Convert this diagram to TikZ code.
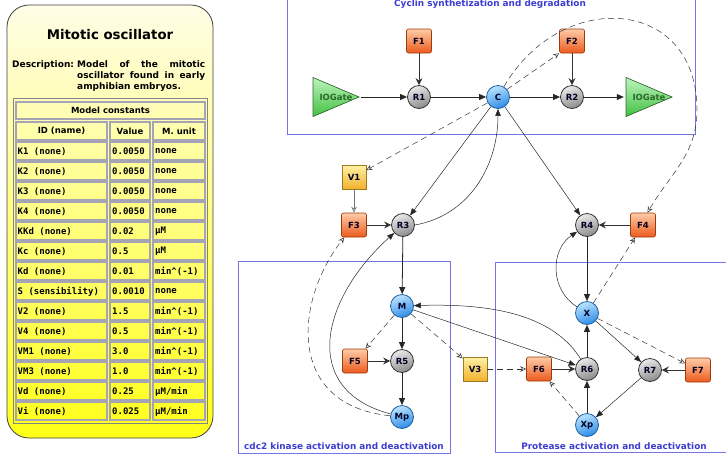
\documentclass[tikz,border=0pt]{standalone}
\usepackage{fontspec}
\setmainfont{DejaVu Sans}
\setmonofont{DejaVu Sans Mono}
\usetikzlibrary{arrows.meta,shapes.geometric,positioning}

% Colours
\definecolor{paneltop}{HTML}{FFFDE6}
\definecolor{panelbot}{HTML}{FFFF18}
\definecolor{cellgray}{HTML}{A4A4B4}
\definecolor{regionline}{HTML}{7474E2}
\definecolor{regiontext}{HTML}{3C3CD2}
\definecolor{bluetop}{HTML}{BCE4FF}
\definecolor{bluebot}{HTML}{2C8CE6}
\definecolor{blueline}{HTML}{1F5F9F}
\definecolor{graytop}{HTML}{EAEAEA}
\definecolor{graybot}{HTML}{8A8A8A}
\definecolor{orangetop}{HTML}{FFCCA6}
\definecolor{orangebot}{HTML}{EC5A1C}
\definecolor{orangeline}{HTML}{9A3C12}
\definecolor{yellowtop}{HTML}{FFF2A6}
\definecolor{yellowbot}{HTML}{F2B02A}
\definecolor{yellowline}{HTML}{9A7A22}
\definecolor{greentop}{HTML}{C4F6C4}
\definecolor{greenbot}{HTML}{3CBE3C}
\definecolor{greenline}{HTML}{2A6A2A}

\tikzset{
  nodefont/.style={font=\bfseries\fontsize{8.5}{9}\selectfont, text=black!85!blue},
  species/.style={circle, minimum size=23pt, inner sep=0pt, draw=blueline, line width=0.8pt,
    top color=bluetop, bottom color=bluebot, shading angle=20, nodefont},
  reaction/.style={circle, minimum size=23pt, inner sep=0pt, draw=black!80, line width=0.8pt,
    top color=graytop, bottom color=graybot, shading angle=20, nodefont},
  funcbox/.style={rectangle, rounded corners=2pt, minimum width=25pt, minimum height=24pt,
    inner sep=0pt, draw=orangeline, line width=0.6pt, top color=orangetop, bottom color=orangebot, nodefont},
  varbox/.style={rectangle, minimum width=24pt, minimum height=24pt,
    inner sep=0pt, draw=yellowline, line width=0.6pt, top color=yellowtop, bottom color=yellowbot, nodefont},
  gate/.style={minimum width=50pt, minimum height=43pt, inner sep=0pt, nodefont, text=greenline,
    path picture={\filldraw[draw=greenline, line width=0.6pt, top color=greentop, bottom color=greenbot]
      ([shift={(2pt,-2pt)}]path picture bounding box.north west)
      -- ([xshift=-2pt]path picture bounding box.east)
      -- ([shift={(2pt,2pt)}]path picture bounding box.south west) -- cycle;}},
  flow/.style={-{Triangle[length=7pt,width=6pt]}, line width=0.8pt, black!85},
  thinflow/.style={-{Triangle[length=7pt,width=5.5pt]}, line width=0.5pt, black!85},
  modline/.style={-{Stealth[length=7pt,width=7pt,inset=2.5pt]}, line width=0.7pt, black!80},
  openline/.style={-{Stealth[open,length=6pt,width=5.5pt]}, line width=0.6pt, black!55},
  sigline/.style={dash pattern=on 6pt off 4pt, -{Stealth[open,length=6pt,width=5.5pt]},
    line width=0.5pt, black!80},
  region/.style={draw=regionline, line width=0.8pt},
  regiontitle/.style={font=\bfseries\fontsize{8.9}{10}\selectfont, text=regiontext},
  cellline/.style={draw=cellgray, line width=1.3pt},
  headtext/.style={font=\bfseries\fontsize{8.5}{10}\selectfont},
  celltext/.style={font=\ttfamily\bfseries\fontsize{9}{10}\selectfont, anchor=west, inner sep=0pt}
}

% Unit with a slash, kept out of the foreach splitting
\newcommand{\permin}{μM/min}
\newcommand{\invmin}{min\textasciicircum(-1)}

\begin{document}
\begin{tikzpicture}[x=1pt,y=-1pt]
  \useasboundingbox (0,0) rectangle (726,459);

  % The model panel
  \draw[rounded corners=22pt, draw=black!75, line width=0.8pt, top color=paneltop, bottom color=panelbot]
    (7,5) rectangle (213,438);
  \node[font=\bfseries\fontsize{13.3}{15}\selectfont] (paneltitle) at (110,35) {Mitotic oscillator};
  \node[font=\bfseries\fontsize{9}{11}\selectfont, anchor=north west, inner sep=0pt] (desclabel) at (12,60)
    {Description:};
  \node[font=\bfseries\fontsize{9}{11}\selectfont, anchor=north west, inner sep=0pt, align=left] (desctext) at (77,60)
    {\makebox[128pt][s]{Model of the mitotic}\\\makebox[128pt][s]{oscillator found in early}\\amphibian embryos.};

  % Constants table
  \draw[draw=cellgray!80!black, line width=0.8pt] (13,98) rectangle (207,423);
  \draw[cellline] (16,102) rectangle (205,119);
  \node[headtext] (tablehead) at (110.5,110.5) {Model constants};
  \draw[cellline] (16,122) rectangle (107,140);
  \draw[cellline] (110,122) rectangle (150,140);
  \draw[cellline] (153,122) rectangle (205,140);
  \node[headtext] (idhead) at (61.5,131) {ID (name)};
  \node[headtext] (valhead) at (130,131) {Value};
  \node[headtext] (unithead) at (179,131) {M. unit};
  \foreach \id/\val/\unit [count=\i] in {K1 (none)/0.0050/none, K2 (none)/0.0050/none,
      K3 (none)/0.0050/none, K4 (none)/0.0050/none, KKd (none)/0.02/μM, Kc (none)/0.5/μM,
      Kd (none)/0.01/\invmin, S (sensibility)/0.0010/none, V2 (none)/1.5/\invmin,
      V4 (none)/0.5/\invmin, VM1 (none)/3.0/\invmin, VM3 (none)/1.0/\invmin,
      Vd (none)/0.25/\permin, Vi (none)/0.025/\permin} {
    \pgfmathsetmacro{\rowtop}{142+20*(\i-1)}
    \draw[cellline] (16,\rowtop) rectangle (107,{\rowtop+18});
    \draw[cellline] (110,\rowtop) rectangle (150,{\rowtop+18});
    \draw[cellline] (153,\rowtop) rectangle (205,{\rowtop+18});
    \node[celltext] (id\i) at (17.5,{\rowtop+9.5}) {\id};
    \node[celltext] (val\i) at (112,{\rowtop+9.5}) {\val};
    \node[celltext] (unit\i) at (155,{\rowtop+9.5}) {\unit};
  }

  % Compartments
  \draw[region] (287,-5) rectangle (695,134);
  \node[regiontitle] (cyclintitle) at (490,4) {Cyclin synthetization and degradation};
  \draw[region] (238,261) rectangle (450,453);
  \node[regiontitle] (kinasetitle) at (344,446.5) {cdc2 kinase activation and deactivation};
  \draw[region] (495,262) rectangle (735,452);
  \node[regiontitle] (proteasetitle) at (614,446.5) {Protease activation and deactivation};

  % Cyclin nodes
  \node[gate] (gatein) at (336,97) {IOGate};
  \node[reaction] (R1) at (419,97) {R1};
  \node[funcbox] (F1) at (419,41) {F1};
  \node[species] (C) at (498,97) {C};
  \node[funcbox] (F2) at (572,41) {F2};
  \node[reaction] (R2) at (572,97) {R2};
  \node[gate] (gateout) at (649,97) {IOGate};

  % Kinase nodes
  \node[varbox] (V1) at (354,177) {V1};
  \node[funcbox] (F3) at (354,225) {F3};
  \node[reaction] (R3) at (403,225) {R3};
  \node[species] (M) at (402,306) {M};
  \node[funcbox] (F5) at (355,361) {F5};
  \node[reaction] (R5) at (402,361) {R5};
  \node[species] (Mp) at (402,417) {Mp};
  \node[varbox] (V3) at (475,369) {V3};

  % Protease nodes
  \node[reaction] (R4) at (587,225) {R4};
  \node[funcbox] (F4) at (643,225) {F4};
  \node[species] (X) at (587,313) {X};
  \node[funcbox] (F6) at (539,369) {F6};
  \node[reaction] (R6) at (587,369) {R6};
  \node[reaction] (R7) at (650,370) {R7};
  \node[funcbox] (F7) at (698,370) {F7};
  \node[species] (Xp) at (587,425) {Xp};

  % Cyclin links
  \draw[flow] (gatein) -- (R1);
  \draw[flow] (R1) -- (C);
  \draw[flow] (C) -- (R2);
  \draw[flow] (R2) -- (gateout);
  \draw[modline] (F1) -- (R1);
  \draw[modline] (F2) -- (R2);
  \draw[sigline] (C.40) -- (F2.south west);
  \draw[sigline] (C) -- (V1);
  \coordinate (loopright) at (697,110);
  \draw[sigline] (C.60) to[out=60,in=90,looseness=1.5] (loopright) to[out=-90,in=60] (F4.70);

  % Kinase links
  \draw[thinflow] (C) -- (R3);
  \draw[thinflow] (R3.east) to[out=10,in=-90] (C.south);
  \draw[openline] (V1) -- (F3);
  \draw[modline] (F3) -- (R3);
  \draw[flow] (R3) -- (M);
  \draw[flow] (M) -- (R5);
  \draw[flow] (R5) -- (Mp);
  \draw[modline] (F5) -- (R5);
  \draw[sigline] (M) -- (F5);
  \draw[sigline] (M) -- (V3);
  \draw[thinflow] (Mp) .. controls (300,390) and (320,300) .. (R3);
  \draw[sigline] (Mp) .. controls (285,405) and (295,300) .. (F3);

  % Protease links
  \draw[thinflow] (C) -- (R4);
  \draw[modline] (F4) -- (R4);
  \draw[flow] (R4) -- (X);
  \draw[thinflow] (X) .. controls (550,290) and (550,250) .. (R4);
  \draw[sigline] (X) -- (F4);
  \draw[sigline] (V3) -- (F6);
  \draw[modline] (F6) -- (R6);
  \draw[thinflow] (M) -- (R6);
  \draw[thinflow] (R6) .. controls (555,318) and (500,303) .. (M);
  \draw[flow] (R6) -- (X);
  \draw[flow] (Xp) -- (R6);
  \draw[thinflow] (X) -- (R7);
  \draw[thinflow] (R7) -- (Xp);
  \draw[modline] (F7) -- (R7);
  \draw[sigline] (X) -- (F7);
  \draw[sigline] (Xp) -- (F6);
\end{tikzpicture}
\end{document}
